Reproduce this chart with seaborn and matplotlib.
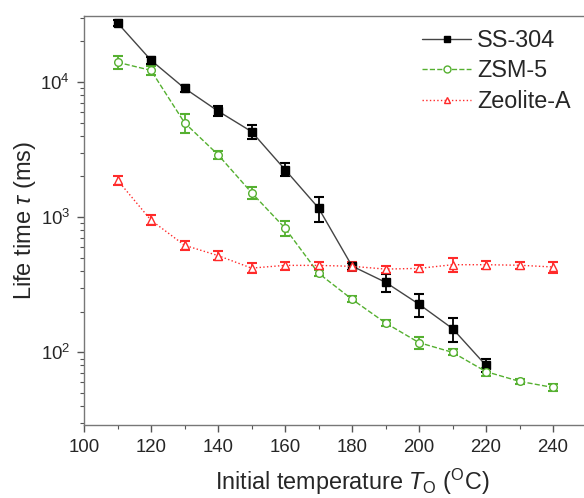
import numpy as np
import pandas as pd
import matplotlib
matplotlib.use("Agg")
import matplotlib.pyplot as plt
import seaborn as sns
from matplotlib.ticker import LogLocator, MultipleLocator, FixedLocator, NullFormatter
from matplotlib.lines import Line2D

temps_ss = [110, 120, 130, 140, 150, 160, 170, 180, 190, 200, 210, 220]
ss304 = [27400, 14500, 9000, 6100, 4300, 2250, 1170, 435, 330, 227, 150, 80]
ss304_err = [1500, 900, 500, 500, 500, 250, 250, 25, 50, 45, 30, 9]

temps_zsm = [110, 120, 130, 140, 150, 160, 170, 180, 190, 200, 210, 220, 230, 240]
zsm5 = [14000, 12200, 5000, 2900, 1520, 830, 385, 247, 165, 118, 100, 72, 61, 55]
zsm5_err = [1500, 900, 800, 200, 150, 100, 20, 12, 8, 12, 5, 5, 3, 3]

temps_zeo = [110, 120, 130, 140, 150, 160, 170, 180, 190, 200, 210, 220, 230, 240]
zeolite = [1880, 950, 620, 520, 420, 440, 440, 433, 413, 418, 445, 445, 441, 428]
zeolite_err = [150, 80, 50, 40, 35, 30, 25, 35, 25, 25, 50, 30, 25, 40]

x_ticks = [100, 120, 140, 160, 180, 200, 220, 240]

names = ["SS-304", "ZSM-5", "Zeolite-A"]
colors = {"SS-304": "#000000", "ZSM-5": "#55b030", "Zeolite-A": "#ff2a2a"}
line_colors = {"SS-304": "#444444", "ZSM-5": "#55b030", "Zeolite-A": "#ff2a2a"}

df = pd.concat([
    pd.DataFrame({"T": temps_ss, "tau": ss304, "err": ss304_err, "series": "SS-304"}),
    pd.DataFrame({"T": temps_zsm, "tau": zsm5, "err": zsm5_err, "series": "ZSM-5"}),
    pd.DataFrame({"T": temps_zeo, "tau": zeolite, "err": zeolite_err, "series": "Zeolite-A"}),
])

sns.set_theme(style="ticks")
plt.rcParams["font.family"] = ["Liberation Sans", "DejaVu Sans"]
plt.rcParams["mathtext.fontset"] = "custom"
plt.rcParams["mathtext.rm"] = "Liberation Sans"
plt.rcParams["mathtext.it"] = "Liberation Sans:italic"

fig = plt.figure(figsize=(5.84, 4.98), dpi=100)
# axes run past the right edge of the picture (cropped original, x up to 260)
ax = fig.add_axes([84 / 584, 73 / 498, 536 / 584, 409 / 498])

styles = {"SS-304": ("-", "s", True), "ZSM-5": ("--", "o", False), "Zeolite-A": (":", "^", False)}
for name in names:
    sub = df[df.series == name]
    ls, mk, filled = styles[name]
    c = colors[name]
    ax.errorbar(sub["T"], sub["tau"], yerr=sub["err"], fmt="none", ecolor=c,
                elinewidth=1.3, capsize=3.6, capthick=1.5, zorder=3)
    sns.lineplot(data=sub, x="T", y="tau", ax=ax, color=line_colors[name], linestyle=ls,
                 linewidth=1.0, marker=mk, markersize=6 if mk == "s" else 5.5,
                 markerfacecolor=c if filled else "white", markeredgecolor=c,
                 markeredgewidth=1.0, zorder=4, legend=False, errorbar=None)

ax.set_yscale("log")
ax.set_xlim(100, 260)
ax.set_ylim(29, 30800)
ax.xaxis.set_major_locator(FixedLocator(x_ticks))
ax.xaxis.set_minor_locator(MultipleLocator(10))
ax.yaxis.set_major_locator(LogLocator(base=10, numticks=10))
ax.yaxis.set_minor_locator(LogLocator(base=10, subs=np.arange(2, 10), numticks=10))
ax.yaxis.set_minor_formatter(NullFormatter())
ax.tick_params(axis="both", which="major", direction="out", length=5, width=1, labelsize=13.4,
               color="#555555", pad=5)
ax.tick_params(axis="both", which="minor", direction="out", length=3, width=0.8, color="#555555")
for s in ax.spines.values():
    s.set_color("#777777")
    s.set_linewidth(1.0)

ax.set_xlabel(r"Initial temperature $\mathit{T}_{\mathrm{O}}$ ($^{\mathrm{O}}$C)", fontsize=16.8, labelpad=8)
ax.set_ylabel(r"Life time $\tau$ (ms)", fontsize=17, labelpad=2)

handles = []
for name in names:
    ls, mk, filled = styles[name]
    c = colors[name]
    handles.append(Line2D([0], [0], color=line_colors[name], linestyle=ls, linewidth=1.0, marker=mk,
                          markersize=5, markerfacecolor=c if filled else "white", markeredgecolor=c))
fig.legend(handles, names, loc="upper left", frameon=False, fontsize=16.8, handlelength=2.1,
           handletextpad=0.25, labelspacing=0.32, borderaxespad=0, borderpad=0,
           bbox_to_anchor=(422 / 584, 1 - 29 / 498), bbox_transform=fig.transFigure)

fig.savefig("out.png", dpi=100)
